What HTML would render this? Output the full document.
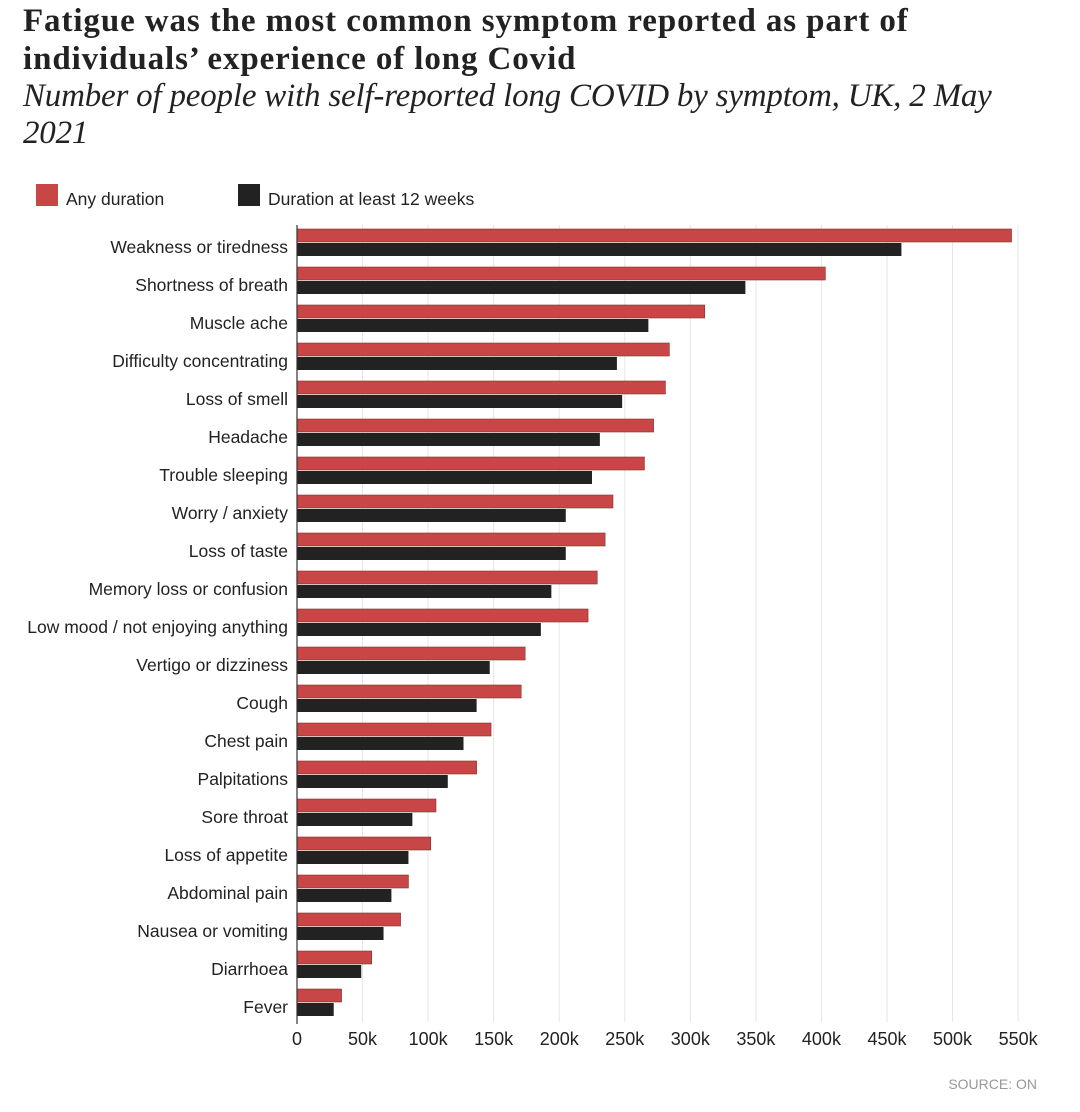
<!DOCTYPE html>
<html><head><meta charset="utf-8">
<style>
body{margin:0;background:#fff;width:1080px;height:1112px;overflow:hidden;font-family:"Liberation Sans",sans-serif}
.t{position:absolute;left:23px;white-space:nowrap;color:#222}
.title{font-family:"Liberation Serif",serif;font-weight:bold;font-size:33px;letter-spacing:0.9px}
.sub{font-family:"Liberation Serif",serif;font-style:italic;font-size:33px;letter-spacing:-0.2px}
svg text{font-family:"Liberation Sans Narrow","Liberation Sans",sans-serif;fill:#222}
</style></head><body>
<div class="t title" style="top:3px">Fatigue was the most common symptom reported as part of</div>
<div class="t title" style="top:41px">individuals’ experience of long Covid</div>
<div class="t sub" style="top:78px">Number of people with self-reported long COVID by symptom, UK, 2 May</div>
<div class="t sub" style="top:115px">2021</div>
<svg id="chart" width="1080" height="1112" style="position:absolute;left:0;top:0"></svg>
<script>
const categories=["Weakness or tiredness","Shortness of breath","Muscle ache","Difficulty concentrating","Loss of smell","Headache","Trouble sleeping","Worry / anxiety","Loss of taste","Memory loss or confusion","Low mood / not enjoying anything","Vertigo or dizziness","Cough","Chest pain","Palpitations","Sore throat","Loss of appetite","Abdominal pain","Nausea or vomiting","Diarrhoea","Fever"];
const anyDuration=[545,403,311,284,281,272,265,241,235,229,222,174,171,148,137,106,102,85,79,57,34];
const atLeast12Weeks=[461,342,268,244,248,231,225,205,205,194,186,147,137,127,115,88,85,72,66,49,28];
const ticks=[0,50,100,150,200,250,300,350,400,450,500,550];
const tickLabels=["0","50k","100k","150k","200k","250k","300k","350k","400k","450k","500k","550k"];
const svg=document.getElementById('chart');
const NS='http://www.w3.org/2000/svg';
const x=v=>297+v*1.3111;
const y=i=>229+i*38;
function mk(tag,attrs){const e=document.createElementNS(NS,tag);for(const k in attrs)e.setAttribute(k,attrs[k]);svg.appendChild(e);return e;}
ticks.forEach((t,i)=>{
  if(t>0){const g=mk('line',{x1:x(t),x2:x(t),y1:225,y2:1022,stroke:'#e6e6e6','stroke-width':1});
  
  }
  const tl=mk('text',{x:x(t),y:1045,'text-anchor':'middle','font-size':18});
  tl.textContent=tickLabels[i];
  
  
});
categories.forEach((c,i)=>{
  const r=mk('rect',{x:x(0),y:y(i),width:x(anyDuration[i])-x(0),height:13,fill:'#c84646',stroke:'#8a2e2e','stroke-width':0.6});
  
  
  const b=mk('rect',{x:x(0),y:y(i)+14,width:x(atLeast12Weeks[i])-x(0),height:13,fill:'#222'});
  
  
  const l=mk('text',{x:288,y:y(i)+24,'text-anchor':'end','font-size':17.5});
  l.textContent=c;
  
  
});
const ax=mk('line',{x1:297,x2:297,y1:225,y2:1024,stroke:'#333','stroke-width':1.2});


const l1=mk('rect',{x:36,y:184,width:22,height:22,fill:'#c84646'});


const lt1=mk('text',{x:66,y:205,'font-size':17.5});lt1.textContent='Any duration';


const l2=mk('rect',{x:238,y:184,width:22,height:22,fill:'#222'});


const lt2=mk('text',{x:268,y:205,'font-size':17.5});lt2.textContent='Duration at least 12 weeks';


const src=mk('text',{x:1037,y:1089,'text-anchor':'end','font-size':14,style:'fill:#999'});src.textContent='SOURCE: ON';


</script>
</body></html>
